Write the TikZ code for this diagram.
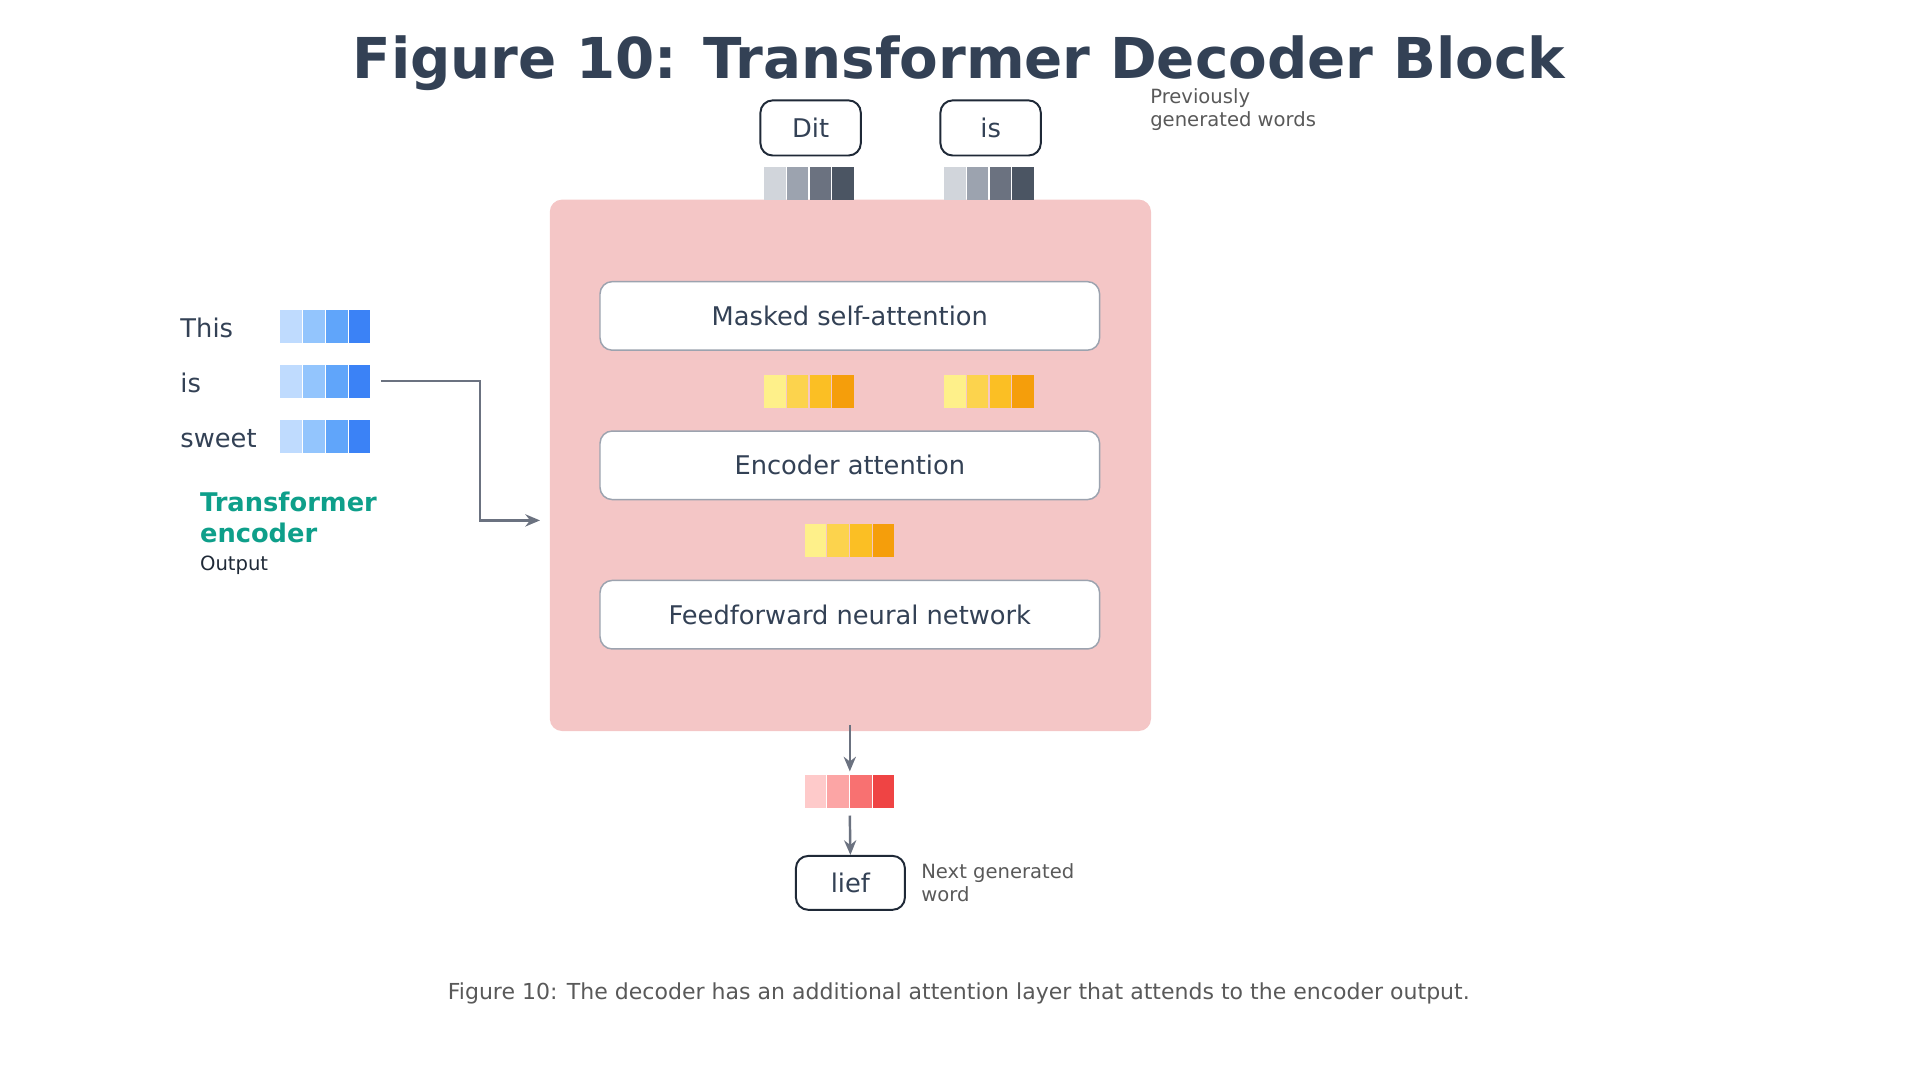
\documentclass[tikz,border=0pt]{standalone}
\usepackage{fontspec}
\setmainfont{DejaVu Sans}
\usetikzlibrary{arrows.meta}
\definecolor{ink}{HTML}{334155}
\definecolor{tok}{HTML}{1F2937}
\definecolor{gry}{HTML}{9CA3AF}
\definecolor{arr}{HTML}{6B7280}
\definecolor{pnk}{HTML}{F4C6C6}
\definecolor{teal}{HTML}{0E9F8A}
\definecolor{g1}{HTML}{D1D5DB}\definecolor{g2}{HTML}{9CA3AF}\definecolor{g3}{HTML}{6B7280}\definecolor{g4}{HTML}{4B5563}
\definecolor{y1}{HTML}{FEF08A}\definecolor{y2}{HTML}{FCD34D}\definecolor{y3}{HTML}{FBBF24}\definecolor{y4}{HTML}{F59E0B}
\definecolor{r1}{HTML}{FECACA}\definecolor{r2}{HTML}{FCA5A5}\definecolor{r3}{HTML}{F87171}\definecolor{r4}{HTML}{EF4444}
\definecolor{b1}{HTML}{BFDBFE}\definecolor{b2}{HTML}{93C5FD}\definecolor{b3}{HTML}{60A5FA}\definecolor{b4}{HTML}{3B82F6}
\newcommand{\vecc}[5]{% x y c1..c4 prefix
  \foreach \i/\c in {0/#3} {}%
}
\newcommand{\myvec}[3]{% left x, top y, color prefix
  \foreach \i in {1,2,3,4}{\fill[#3\i] ({#1+(\i-1)*18.6},#2) rectangle ++(17.6,27);}}
\begin{document}
\begin{tikzpicture}[x=0.5pt,y=-0.5pt,
  tokb/.style={draw=tok,line width=0.8pt,rounded corners=5pt,fill=white,font=\fontsize{10.5}{12}\selectfont,text=ink},
  layer/.style={draw=gry,line width=0.6pt,rounded corners=5pt,fill=white,minimum width=204pt,minimum height=28pt,font=\fontsize{10.5}{12}\selectfont,text=ink},
  note/.style={font=\fontsize{8}{9.5}\selectfont,text=black!65,align=left,anchor=north west,inner sep=0},
  lbl/.style={font=\fontsize{10.5}{12}\selectfont,text=ink,anchor=west,inner sep=0},
  ar/.style={draw=arr,line width=1pt,-{Stealth[length=6pt,width=5pt]}}]
\useasboundingbox (0,0) rectangle (1568,882);
\node[font=\bfseries\fontsize{23}{26}\selectfont,text=ink] (title) at (783,52) {Figure 10: Transformer Decoder Block};
\fill[pnk,rounded corners=5pt] (449,163) rectangle (940,597);
\coordinate (blk) at (449,425);
\node[tokb,minimum width=41pt,minimum height=22.5pt] (dit) at (662,104.5) {Dit};
\node[tokb,minimum width=41pt,minimum height=22.5pt] (is2) at (809,104.5) {is};
\myvec{624}{136}{g}\myvec{771}{136}{g}
\node[note] (prev) at (939,72) {Previously\\generated words};
\node[layer] (mask) at (694,258) {Masked self-attention};
\myvec{624}{306}{y}\myvec{771}{306}{y}
\node[layer] (enc) at (694,380) {Encoder attention};
\myvec{657}{428}{y}
\node[layer] (ffn) at (694,502) {Feedforward neural network};
\coordinate (o1) at (694,592);
\coordinate (o2) at (694,630);
\draw[ar] (o1) -- (o2);
\myvec{657}{633}{r}
\coordinate (o3) at (694,666);
\node[tokb,minimum width=44.5pt,minimum height=22pt] (lief) at (694.5,721) {lief};
\draw[ar] (o3) -- (lief.north);
\node[note] (next) at (752,705) {Next generated\\word};
\node[lbl] (w1) at (147,268) {This};
\node[lbl] (w2) at (147,313) {is};
\node[lbl] (w3) at (147,358) {sweet};
\myvec{229}{253}{b}\myvec{229}{298}{b}\myvec{229}{343}{b}
\coordinate (e1) at (311,311);
\coordinate (e2) at (441,425);
\draw[ar] (e1) -| (392,425) -- (e2);
\node[font=\bfseries\fontsize{10.5}{13}\selectfont,text=teal,align=left,anchor=north west,inner sep=0] (te) at (163,401) {Transformer\\encoder};
\node[font=\fontsize{8}{9.5}\selectfont,text=tok,anchor=west,inner sep=0] (out) at (163,462) {Output};
\node[font=\fontsize{9}{11}\selectfont,text=black!65] (cap) at (783,811) {Figure 10: The decoder has an additional attention layer that attends to the encoder output.};
\end{tikzpicture}
\end{document}
